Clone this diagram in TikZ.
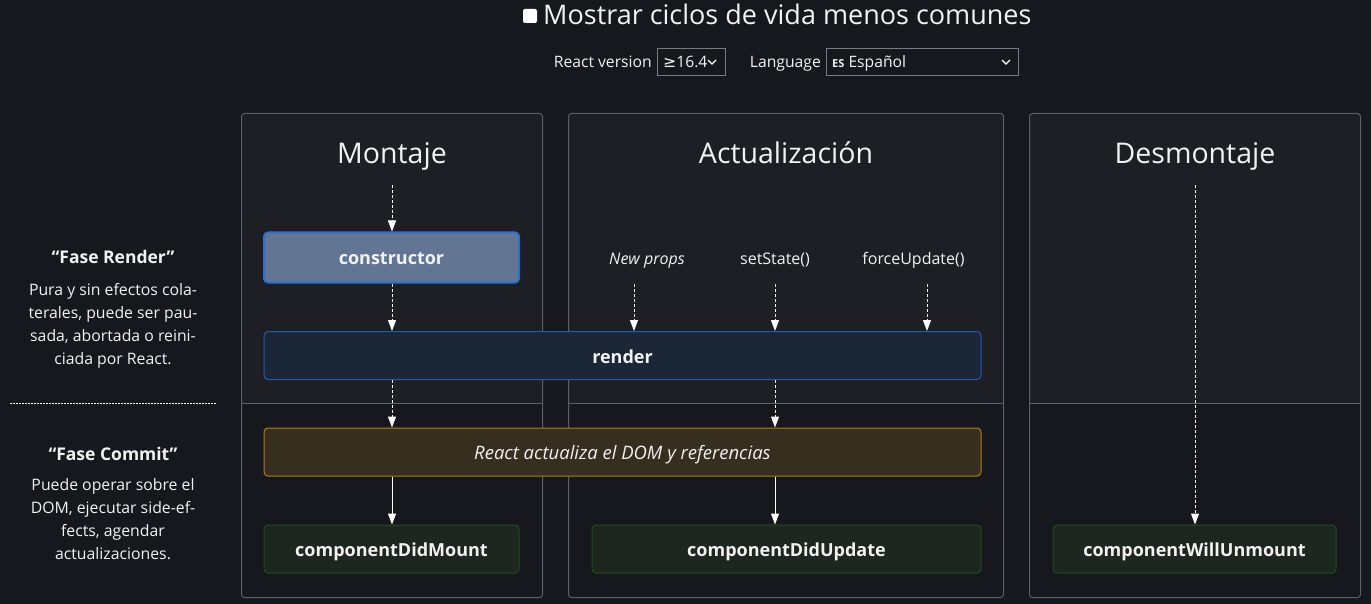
\documentclass[tikz,border=0pt]{standalone}
\usepackage{fontspec}
\setmainfont{Open Sans}
\newfontfamily\dejavu{DejaVu Sans}
\usetikzlibrary{arrows.meta}
\definecolor{bg}{HTML}{17181D}
\definecolor{paneltop}{HTML}{1E1F25}
\definecolor{panelline}{HTML}{5E5F63}
\definecolor{ctorfill}{HTML}{627693}
\definecolor{ctorline}{HTML}{2B6ED4}
\definecolor{renderfill}{HTML}{1B2636}
\definecolor{renderline}{HTML}{1F5BB0}
\definecolor{domfill}{HTML}{362F1F}
\definecolor{domline}{HTML}{B0801A}
\definecolor{greenfill}{HTML}{1E271F}
\definecolor{greenline}{HTML}{1E4E1A}
\definecolor{selline}{HTML}{7A7A7E}
\definecolor{txt}{HTML}{F2F2F2}
\begin{document}
\begin{tikzpicture}[x=1pt,y=-1pt,
  every node/.style={text=txt, inner sep=0pt},
  lbox/.style={rounded corners=4pt, line width=1pt, font=\fontsize{18}{20}\selectfont\bfseries, minimum height=48pt, text height=15pt, text depth=0pt},
  ctorbox/.style={lbox, fill=ctorfill, draw=ctorline, line width=2pt},
  renderbox/.style={lbox, fill=renderfill, draw=renderline},
  dombox/.style={lbox, fill=domfill, draw=domline, font=\fontsize{18.5}{20}\selectfont\itshape},
  greenbox/.style={lbox, fill=greenfill, draw=greenline},
  title/.style={font=\fontsize{28.5}{32}\selectfont, anchor=base},
  small/.style={font=\fontsize{15.7}{18}\selectfont},
  trig/.style={font=\fontsize{16}{18}\selectfont, anchor=base},
  side/.style={font=\fontsize{15.8}{23.2}\selectfont, anchor=base},
  sidehead/.style={font=\fontsize{17.5}{20}\selectfont\bfseries, anchor=base},
  dasharrow/.style={draw=white, line width=1pt, dash pattern=on 3pt off 2pt, -{Triangle[width=8pt,length=11pt]}},
  solidarrow/.style={draw=white, line width=1pt, -{Triangle[width=8pt,length=11pt]}},
  panel/.style={draw=panelline, line width=1pt, rounded corners=3pt},
  sel/.style={draw=selline, line width=1pt}
]
\useasboundingbox (0,0) rectangle (1371,604);
\fill[bg] (0,0) rectangle (1371,604);

% ---- header
\fill[white, rounded corners=2pt] (523,9) rectangle (537,23);
\node[anchor=base west, font=\fontsize{27}{30}\selectfont] (hdr) at (543,25) {Mostrar ciclos de vida menos comunes};
\node[small, anchor=base east] (rv) at (652,68) {React version};
\draw[sel] (657.5,48.5) rectangle (725.5,75.5);
\node[small, anchor=base west] (ver) at (663,68) {{\dejavu ≥}16.4};
\draw[white, line width=1.3pt] (708,60) -- (712,64) -- (716,60);
\node[small, anchor=base east] (lang) at (821,68) {Language};
\draw[sel] (826.5,48.5) rectangle (1018.5,75.5);
\node[small, anchor=base west] (esp) at (832,68) {{\fontsize{11}{12}\selectfont\bfseries ES} Español};
\draw[white, line width=1.3pt] (1002,60) -- (1006,64) -- (1010,60);

% ---- panels
\foreach \xa/\xb in {241.5/542.5, 568.5/1003.5, 1029.5/1360.5}{
  \fill[paneltop, rounded corners=3pt] (\xa,113.5) rectangle (\xb,403.5);
  \fill[paneltop] (\xa,300) rectangle (\xb,403.5);
  \draw[panel] (\xa,113.5) rectangle (\xb,597.5);
  \draw[panelline, line width=1pt] (\xa,403.5) -- (\xb,403.5);
}
\node[title] (tm) at (392,164) {Montaje};
\node[title] (ta) at (786,164) {Actualización};
\node[title] (td) at (1195,164) {Desmontaje};

% ---- side texts
\node[sidehead] (fr) at (113,263) {“Fase Render”};
\node[side] (frt) at (113,295) {Pura y sin efectos cola-};
\node[side] (frt2) at (113,318) {terales, puede ser pau-};
\node[side] (frt3) at (113,341) {sada, abortada o reini-};
\node[side] (frt4) at (113,364) {ciada por React.};
\draw[white, line width=1.5pt, dash pattern=on 1.5pt off 1.5pt] (10,403.5) -- (216,403.5);
\node[sidehead] (fc) at (113,460) {“Fase Commit”};
\node[side] (fct) at (113,490) {Puede operar sobre el};
\node[side] (fct2) at (113,513) {DOM, ejecutar side-ef-};
\node[side] (fct3) at (113,536) {fects, agendar};
\node[side] (fct4) at (113,559) {actualizaciones.};

% ---- boxes
\node[ctorbox, minimum width=255pt, minimum height=50pt] (ctor) at (391.5,257.5) {constructor};
\node[renderbox, minimum width=717pt] (render) at (622.5,355.5) {render};
\node[dombox, minimum width=717pt] (dom) at (622.5,452) {React actualiza el DOM y referencias};
\node[greenbox, minimum width=255pt] (cdm) at (391.5,549) {componentDidMount};
\node[greenbox, minimum width=389pt] (cdu) at (786.5,549) {componentDidUpdate};
\node[greenbox, minimum width=283pt] (cwu) at (1194.5,549) {componentWillUnmount};

% ---- update triggers
\node[trig, font=\fontsize{16}{18}\selectfont\itshape] (np) at (647,265) {New props};
\node[trig] (ss) at (775,265) {setState()};
\node[trig] (fu) at (913.5,265) {forceUpdate()};
\coordinate (npa) at (634,284);
\coordinate (ssa) at (775,284);
\coordinate (fua) at (927,284);
\coordinate (ms) at (392,185);
\coordinate (us) at (1195,185);

% ---- arrows
\draw[dasharrow] (ms) -- (ctor.north -| ms);
\draw[dasharrow] (ctor.south -| ms) -- (render.north -| ms);
\draw[dasharrow] (render.south -| ms) -- (dom.north -| ms);
\draw[solidarrow] (dom.south -| ms) -- (cdm.north -| ms);
\draw[dasharrow] (npa) -- (render.north -| npa);
\draw[dasharrow] (ssa) -- (render.north -| ssa);
\draw[dasharrow] (fua) -- (render.north -| fua);
\draw[dasharrow] (render.south -| ssa) -- (dom.north -| ssa);
\draw[solidarrow] (dom.south -| ssa) -- (cdu.north -| ssa);
\draw[dasharrow] (us) -- (cwu.north -| us);
\end{tikzpicture}
\end{document}
